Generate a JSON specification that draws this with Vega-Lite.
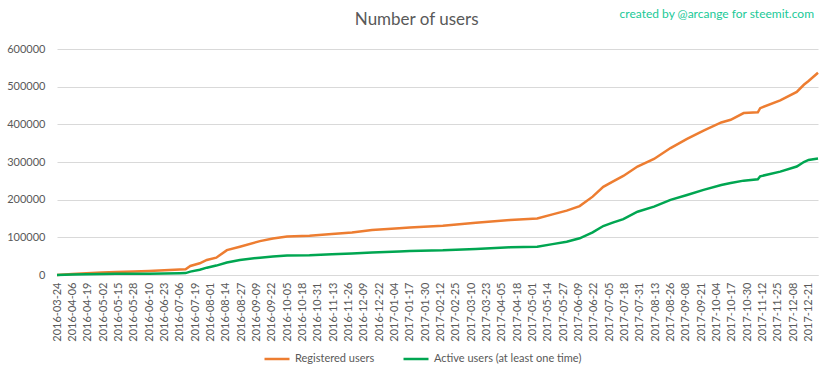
{
  "$schema": "https://vega.github.io/schema/vega-lite/v6.json",
  "width": 761,
  "height": 226,
  "autosize": {"type": "none"},
  "padding": {"left": 57, "top": 49, "right": 14, "bottom": 104},
  "background": "white",
  "config": {
    "view": {"stroke": null},
    "font": "Lato",
    "axis": {"labelFont": "Lato", "labelColor": "#595959", "labelFontSize": 11, "titleColor": "#595959", "labelOverlap": false},
    "axisX": {"labelOverlap": false, "labelFlush": false},
    "axisY": {"labelOverlap": false},
    "legend": {"labelFont": "Lato", "labelColor": "#595959", "labelFontSize": 11}
  },
  "encoding": {
    "x": {
      "field": "d",
      "type": "temporal",
      "scale": {"type": "utc", "domain": [1458777600000, 1514505600000]},
      "axis": {
        "title": null,
        "format": "%Y-%m-%d",
        "labelAngle": -90,
        "labelPadding": 7,
        "labelOverlap": false,
        "ticks": false,
        "grid": false,
        "domainColor": "#d9d9d9",
        "values": [1458777600000, 1459900800000, 1461024000000, 1462147200000, 1463270400000, 1464393600000, 1465516800000, 1466640000000, 1467763200000, 1468886400000, 1470009600000, 1471132800000, 1472256000000, 1473379200000, 1474502400000, 1475625600000, 1476748800000, 1477872000000, 1478995200000, 1480118400000, 1481241600000, 1482364800000, 1483488000000, 1484611200000, 1485734400000, 1486857600000, 1487980800000, 1489104000000, 1490227200000, 1491350400000, 1492473600000, 1493596800000, 1494720000000, 1495843200000, 1496966400000, 1498089600000, 1499212800000, 1500336000000, 1501459200000, 1502582400000, 1503705600000, 1504828800000, 1505952000000, 1507075200000, 1508198400000, 1509321600000, 1510444800000, 1511568000000, 1512691200000, 1513814400000]
      }
    },
    "y": {
      "field": "users",
      "type": "quantitative",
      "scale": {"domain": [0, 600000], "nice": false},
      "axis": {
        "title": null,
        "values": [0, 100000, 200000, 300000, 400000, 500000, 600000],
        "format": "d",
        "labelOverlap": false,
        "ticks": false,
        "domain": false,
        "gridColor": "#d9d9d9",
        "labelPadding": 12
      }
    }
  },
  "layer": [
    {
      "data": {
        "values": [
          {"d": "2016-03-24", "r": 0, "a": 0},
          {"d": "2016-04-06", "r": 2500, "a": 1000},
          {"d": "2016-04-18", "r": 4500, "a": 2000},
          {"d": "2016-05-01", "r": 6500, "a": 2500},
          {"d": "2016-05-13", "r": 8000, "a": 3000},
          {"d": "2016-05-28", "r": 9000, "a": 3200},
          {"d": "2016-06-10", "r": 10500, "a": 3500},
          {"d": "2016-06-23", "r": 12500, "a": 4000},
          {"d": "2016-07-06", "r": 14500, "a": 4500},
          {"d": "2016-07-11", "r": 15500, "a": 5000},
          {"d": "2016-07-15", "r": 24000, "a": 9000},
          {"d": "2016-07-23", "r": 31000, "a": 14000},
          {"d": "2016-07-29", "r": 40000, "a": 19500},
          {"d": "2016-08-06", "r": 46000, "a": 25000},
          {"d": "2016-08-15", "r": 66000, "a": 33000},
          {"d": "2016-08-26", "r": 75000, "a": 40000},
          {"d": "2016-09-12", "r": 90000, "a": 46000},
          {"d": "2016-09-23", "r": 97000, "a": 49000},
          {"d": "2016-10-05", "r": 102000, "a": 51500},
          {"d": "2016-10-24", "r": 104500, "a": 52500},
          {"d": "2016-11-12", "r": 109000, "a": 55000},
          {"d": "2016-11-29", "r": 113000, "a": 57000},
          {"d": "2016-12-16", "r": 119500, "a": 59500},
          {"d": "2017-01-08", "r": 124000, "a": 62500},
          {"d": "2017-01-17", "r": 126000, "a": 64000},
          {"d": "2017-02-14", "r": 131000, "a": 65500},
          {"d": "2017-03-14", "r": 139000, "a": 69000},
          {"d": "2017-04-12", "r": 146000, "a": 73500},
          {"d": "2017-05-05", "r": 150000, "a": 75000},
          {"d": "2017-05-18", "r": 161000, "a": 82000},
          {"d": "2017-05-30", "r": 171000, "a": 88500},
          {"d": "2017-06-10", "r": 183000, "a": 97500},
          {"d": "2017-06-21", "r": 208000, "a": 113000},
          {"d": "2017-06-30", "r": 234000, "a": 130000},
          {"d": "2017-07-08", "r": 248000, "a": 139000},
          {"d": "2017-07-17", "r": 263000, "a": 148500},
          {"d": "2017-07-29", "r": 288000, "a": 168000},
          {"d": "2017-08-12", "r": 308000, "a": 181500},
          {"d": "2017-08-26", "r": 337000, "a": 199500},
          {"d": "2017-09-09", "r": 361500, "a": 212500},
          {"d": "2017-09-23", "r": 383500, "a": 226000},
          {"d": "2017-10-08", "r": 405000, "a": 239000},
          {"d": "2017-10-16", "r": 412000, "a": 244000},
          {"d": "2017-10-27", "r": 430000, "a": 250500},
          {"d": "2017-11-08", "r": 432000, "a": 254000},
          {"d": "2017-11-10", "r": 443000, "a": 262000},
          {"d": "2017-11-27", "r": 463500, "a": 274500},
          {"d": "2017-12-11", "r": 486000, "a": 288000},
          {"d": "2017-12-17", "r": 505000, "a": 300000},
          {"d": "2017-12-21", "r": 515000, "a": 305500},
          {"d": "2017-12-29", "r": 537000, "a": 309500}
        ]
      },
      "transform": [{"fold": ["r", "a"], "as": ["key", "users"]}],
      "mark": {"type": "line", "strokeWidth": 2.5, "interpolate": "linear"},
      "encoding": {
        "color": {
          "field": "key",
          "type": "nominal",
          "scale": {"domain": ["r", "a"], "range": ["#ED7D31", "#00A651"]},
          "legend": {
            "title": null,
            "orient": "none",
            "direction": "horizontal",
            "legendX": 206,
            "legendY": 296,
            "symbolType": "stroke",
            "symbolSize": 625,
            "symbolStrokeWidth": 2.5,
            "labelOffset": 4,
            "columnPadding": 23,
            "labelExpr": "datum.label == 'r' ? 'Registered users' : 'Active users (at least one time)'"
          }
        }
      }
    },
    {
      "data": {"values": [{"d": "2017-12-29", "users": 600000, "t": "created by @arcange for steemit.com"}]},
      "mark": {"type": "text", "align": "right", "baseline": "middle", "fontSize": 12, "font": "Lato", "color": "#20C997", "dy": -35, "dx": -4},
      "encoding": {"text": {"field": "t"}}
    },
    {
      "data": {"values": [{"d": "2017-01-22", "users": 600000, "t": "Number of users"}]},
      "mark": {"type": "text", "align": "center", "baseline": "middle", "fontSize": 17, "font": "Lato", "color": "#595959", "dy": -29, "dx": 1},
      "encoding": {"text": {"field": "t"}}
    }
  ]
}
